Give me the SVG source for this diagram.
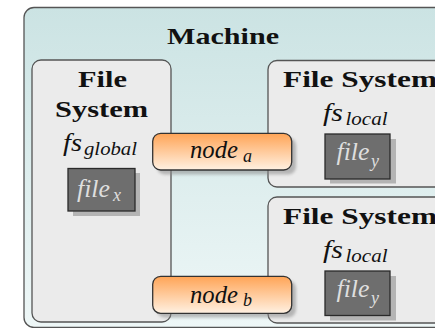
<svg xmlns="http://www.w3.org/2000/svg" width="435" height="328" viewBox="0 0 435 328">
<defs>
<linearGradient id="gMachine" x1="0" y1="0" x2="0" y2="1">
<stop offset="0" stop-color="#cbe3e3"/>
<stop offset="1" stop-color="#eef7f7"/>
</linearGradient>
<linearGradient id="gNode" x1="0" y1="0" x2="0" y2="1">
<stop offset="0" stop-color="#ffa456"/>
<stop offset="1" stop-color="#fff1e2"/>
</linearGradient>
<filter id="blur" x="-10%" y="-10%" width="120%" height="130%">
<feGaussianBlur stdDeviation="1.5"/>
</filter>
<style>
.machine{fill:url(#gMachine);stroke:#555;stroke-width:1.3}
.fs{fill:#ebebeb;stroke:#555;stroke-width:1.3}
.node{fill:url(#gNode);stroke:#333;stroke-width:1.3}
.nshadow{fill:#888;opacity:0.55;filter:url(#blur)}
.file{fill:#6e6e6e;stroke:#2a2a2a;stroke-width:1.3}
.fshadow{fill:#b4b4b4}
.bold{font-family:'Liberation Serif',serif;font-weight:bold;font-size:24px;fill:#111}
.math{font-family:'Liberation Serif',serif;font-style:italic;font-size:25px;fill:#111}
.sub{font-family:'Liberation Serif',serif;font-style:italic;font-size:18px;fill:#111}
.ftext{fill:#dedede}
</style>
</defs>
<g id="machine">
<rect class="machine" x="24" y="7.5" width="440" height="320" rx="10"/>
<text class="bold" x="167" y="44" textLength="112" lengthAdjust="spacingAndGlyphs">Machine</text>
</g>
<g id="fs_global">
<rect class="fs" x="32" y="60" width="139" height="262" rx="9"/>
<text class="bold" x="78" y="87" textLength="49" lengthAdjust="spacingAndGlyphs">File</text>
<text class="bold" x="55" y="117" textLength="93" lengthAdjust="spacingAndGlyphs">System</text>
<text class="math" x="63" y="151" textLength="19" lengthAdjust="spacingAndGlyphs">fs</text>
<text class="sub" x="84" y="154.5" textLength="53" lengthAdjust="spacingAndGlyphs">global</text>
</g>
<g id="file_x">
<rect class="fshadow" x="73" y="173" width="67" height="43"/>
<rect class="file" x="68" y="168.5" width="67" height="42.5"/>
<text class="math ftext" x="77" y="197" textLength="33" lengthAdjust="spacingAndGlyphs">file</text>
<text class="sub ftext" x="113" y="201">x</text>
</g>
<g id="fs_local_1">
<rect class="fs" x="268" y="60.5" width="190" height="126.5" rx="9"/>
<text class="bold" x="283" y="87" textLength="154" lengthAdjust="spacingAndGlyphs">File System</text>
<text class="math" x="323" y="121" textLength="20" lengthAdjust="spacingAndGlyphs">fs</text>
<text class="sub" x="345.5" y="125" textLength="42" lengthAdjust="spacingAndGlyphs">local</text>
</g>
<g id="file_y_1">
<rect class="fshadow" x="330" y="139" width="66" height="44.5"/>
<rect class="file" x="325" y="134" width="65" height="45"/>
<text class="math ftext" x="336.5" y="160" textLength="33" lengthAdjust="spacingAndGlyphs">file</text>
<text class="sub ftext" x="371" y="167">y</text>
</g>
<g id="fs_local_2">
<rect class="fs" x="268" y="197" width="190" height="126" rx="9"/>
<text class="bold" x="283" y="223.5" textLength="154" lengthAdjust="spacingAndGlyphs">File System</text>
<text class="math" x="323" y="257.5" textLength="20" lengthAdjust="spacingAndGlyphs">fs</text>
<text class="sub" x="345.5" y="261.5" textLength="42" lengthAdjust="spacingAndGlyphs">local</text>
</g>
<g id="file_y_2">
<rect class="fshadow" x="330" y="276" width="66" height="44.5"/>
<rect class="file" x="325" y="271" width="65" height="44.5"/>
<text class="math ftext" x="336.5" y="297" textLength="33" lengthAdjust="spacingAndGlyphs">file</text>
<text class="sub ftext" x="371" y="304">y</text>
</g>
<g id="connectors"></g>
<g id="node_a">
<rect class="nshadow" x="157" y="137.5" width="139" height="37" rx="8"/>
<rect class="node" x="152.7" y="133.3" width="139" height="36.7" rx="8"/>
<text class="math" x="190" y="158" textLength="48" lengthAdjust="spacingAndGlyphs">node</text>
<text class="sub" x="243" y="162">a</text>
</g>
<g id="node_b">
<rect class="nshadow" x="157" y="280.5" width="139" height="37" rx="8"/>
<rect class="node" x="152.7" y="276.3" width="139" height="37" rx="8"/>
<text class="math" x="190" y="302.5" textLength="48" lengthAdjust="spacingAndGlyphs">node</text>
<text class="sub" x="243" y="306">b</text>
</g>
</svg>
